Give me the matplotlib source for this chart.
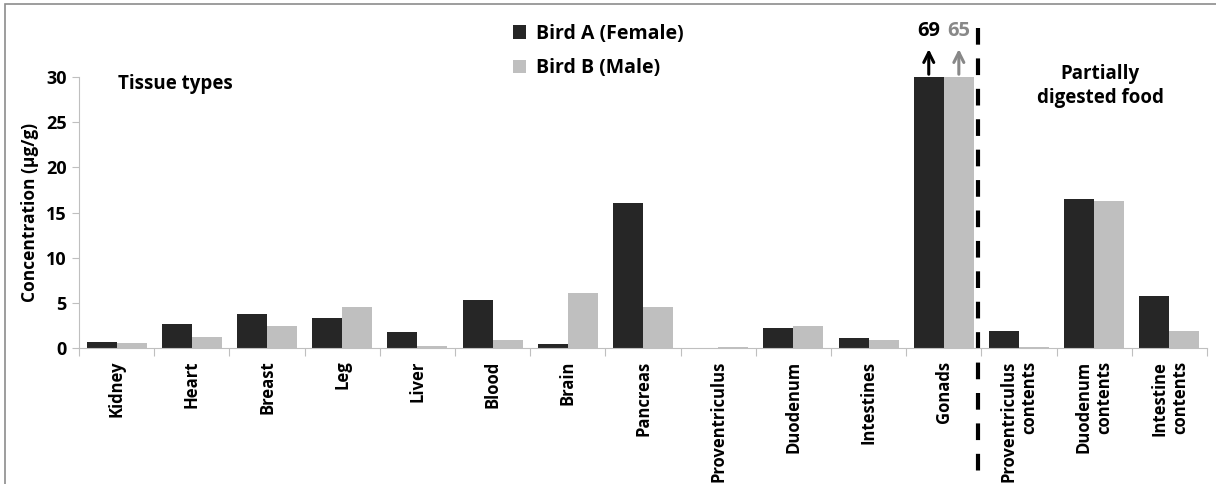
import matplotlib
matplotlib.use("Agg")
import matplotlib.pyplot as plt
import numpy as np
from matplotlib.patches import Rectangle

plt.rcParams.update({"font.family": "Open Sans", "font.weight": "bold"})

categories = [
    "Kidney", "Heart", "Breast", "Leg", "Liver", "Blood", "Brain", "Pancreas",
    "Proventriculus", "Duodenum", "Intestines", "Gonads",
    "Proventriculus\ncontents", "Duodenum\ncontents", "Intestine\ncontents",
]
bird_a = [0.7, 2.7, 3.8, 3.3, 1.8, 5.3, 0.4, 16.0, 0.0, 2.25, 1.1, 30.0, 1.85, 16.5, 5.8]
bird_b = [0.5, 1.25, 2.4, 4.5, 0.25, 0.85, 6.1, 4.5, 0.1, 2.4, 0.85, 30.0, 0.15, 16.3, 1.85]
gonad_true = [69, 65]

dark = "#262626"
light = "#bfbfbf"
axis_gray = "#bfbfbf"

fig = plt.figure(figsize=(12.16, 4.84), dpi=100)
ax = fig.add_axes([79 / 1216, 1 - 348 / 484, (1207 - 79) / 1216, (348 - 77) / 484])

x = np.arange(len(categories)) + 0.5
w = 0.4
ax.bar(x - w / 2, bird_a, w, color=dark, label="Bird A (Female)")
ax.bar(x + w / 2, bird_b, w, color=light, label="Bird B (Male)")

ax.set_xlim(0, len(categories))
ax.set_ylim(0, 30)
ax.set_yticks([0, 5, 10, 15, 20, 25, 30])
ax.tick_params(axis="y", labelsize=13, length=5, color=axis_gray, pad=4)
ax.set_xticks(np.arange(len(categories) + 1))
ax.set_xticklabels([])
ax.tick_params(axis="x", length=6, color=axis_gray)
for i, lab in enumerate(categories):
    ax.text(x[i], -1.4, lab, rotation=90, ha="center", va="top", multialignment="right",
            fontsize=12, fontweight="bold", linespacing=1.2)

for s in ["top", "right"]:
    ax.spines[s].set_visible(False)
ax.spines["left"].set_color(axis_gray)
ax.spines["bottom"].set_color(axis_gray)

ax.set_ylabel("Concentration (µg/g)", fontsize=12.5, fontweight="bold", labelpad=5)

# gonads arrows beyond axis
gi = categories.index("Gonads")
for xi, val, col in [(x[gi] - w / 2, gonad_true[0], "black"), (x[gi] + w / 2, gonad_true[1], "#888888")]:
    ax.annotate("", xy=(xi, 33.4), xytext=(xi, 30), annotation_clip=False,
                arrowprops=dict(arrowstyle="->", color=col, lw=2.2, mutation_scale=18))
    ax.text(xi, 34.0, str(val), ha="center", va="bottom", fontsize=14.5, color=col,
            fontweight="bold", clip_on=False)

# separator between tissues and food
ax.plot([gi + 0.955, gi + 0.955], [35.4, -15.2], color="black", lw=3,
        dashes=(4, 3.3), clip_on=False)

ax.text(0.52, 29.2, "Tissue types", ha="left", va="center", fontsize=13.5, fontweight="bold")
ax.text(13.58, 29.0, "Partially\ndigested food", ha="center", va="center", fontsize=13.5,
        fontweight="bold", linespacing=1.3)

ax.legend(loc="upper left", bbox_to_anchor=(505 / 1216, 1 - 16 / 484), bbox_transform=fig.transFigure,
          frameon=False, fontsize=14, handlelength=0.7, handleheight=0.7, handletextpad=0.5,
          labelspacing=0.75, borderaxespad=0)

fig.patches.append(Rectangle((5 / 1216, -0.1), 1.2, 1 - 4 / 484 + 0.1, transform=fig.transFigure,
                             fill=False, edgecolor="#8c8c8c", lw=1.2))

fig.savefig("out.png", dpi=100)
